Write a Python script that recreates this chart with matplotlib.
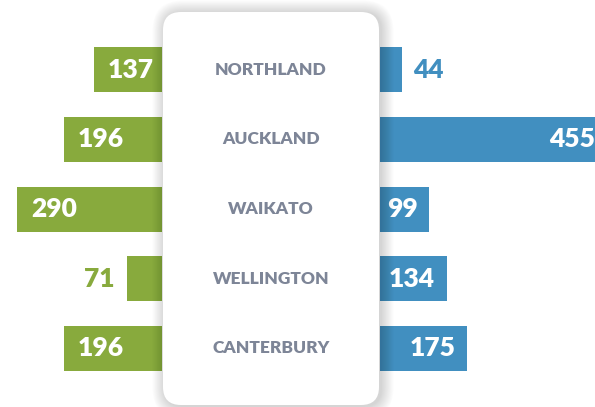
import matplotlib.pyplot as plt
from matplotlib.patches import FancyBboxPatch
from matplotlib.transforms import blended_transform_factory

plt.rcParams['font.family'] = ['Lato', 'DejaVu Sans']

regions = ['NORTHLAND', 'AUCKLAND', 'WAIKATO', 'WELLINGTON', 'CANTERBURY']
left_values = [137, 196, 290, 71, 196]
right_values = [44, 455, 99, 134, 175]

GREEN = '#88aa3d'
BLUE = '#418fc0'
GREY = '#7d8597'

W, H = 595, 407
fig = plt.figure(figsize=(W / 100, H / 100), dpi=100)

YLIM = (4.84, -1.0)
BAR_H = 0.646
INSIDE_MIN = 90   # smaller bars get their label outside
WEIGHT = 'heavy'

# left side (green), grows to the left
ax_l = fig.add_axes([0, 0, 162 / W, 1])
ax_l.barh(range(len(regions)), left_values, height=BAR_H, color=GREEN)
ax_l.set_xlim(324, 0)
ax_l.set_ylim(*YLIM)
ax_l.axis('off')
for i, v in enumerate(left_values):
    if v >= INSIDE_MIN:
        ax_l.annotate(str(v), (v, i), xytext=(14, 0), textcoords='offset pixels',
                      ha='left', va='center', color='white', fontsize=19,
                      fontweight=WEIGHT, annotation_clip=False)
    else:
        ax_l.annotate(str(v), (v, i), xytext=(-12, 0), textcoords='offset pixels',
                      ha='right', va='center', color=GREEN, fontsize=19,
                      fontweight=WEIGHT, annotation_clip=False)

# right side (blue)
ax_r = fig.add_axes([380 / W, 0, (W - 380) / W, 1])
ax_r.barh(range(len(regions)), right_values, height=BAR_H, color=BLUE)
ax_r.set_xlim(0, (W - 380) * 2)
ax_r.set_ylim(*YLIM)
ax_r.axis('off')
for i, v in enumerate(right_values):
    if v >= INSIDE_MIN:
        ax_r.annotate(str(v), (v, i), xytext=(-12, 0), textcoords='offset pixels',
                      ha='right', va='center', color='white', fontsize=19,
                      fontweight=WEIGHT, annotation_clip=False)
    else:
        ax_r.annotate(str(v), (v, i), xytext=(11, 0), textcoords='offset pixels',
                      ha='left', va='center', color=BLUE, fontsize=19,
                      fontweight=WEIGHT, annotation_clip=False)

# centre card with soft shadow, drawn in pixel units
card = fig.add_axes([0, 0, 1, 1])
card.set_xlim(0, W)
card.set_ylim(H, 0)
card.axis('off')
card.patch.set_alpha(0)

x0, y0, x1, y1, r = 163, 12, 379, 405, 18
for k in range(14, 0, -1):
    card.add_patch(FancyBboxPatch((x0 + r + 2, y0 + r + 1), x1 - x0 - 2 * r, y1 - y0 - 2 * r,
                                  boxstyle=f'round,pad={r + k * 0.9}',
                                  fc='black', ec='none', alpha=0.012))
card.add_patch(FancyBboxPatch((x0 + r, y0 + r), x1 - x0 - 2 * r, y1 - y0 - 2 * r,
                              boxstyle=f'round,pad={r}', fc='white', ec='none'))

tr = blended_transform_factory(card.transData, ax_l.transData)
for i, name in enumerate(regions):
    card.text((x0 + x1) / 2, i, name, transform=tr, ha='center', va='center',
              color=GREY, fontsize=12.5, fontweight=WEIGHT)

fig.savefig('out.png', dpi=100)
